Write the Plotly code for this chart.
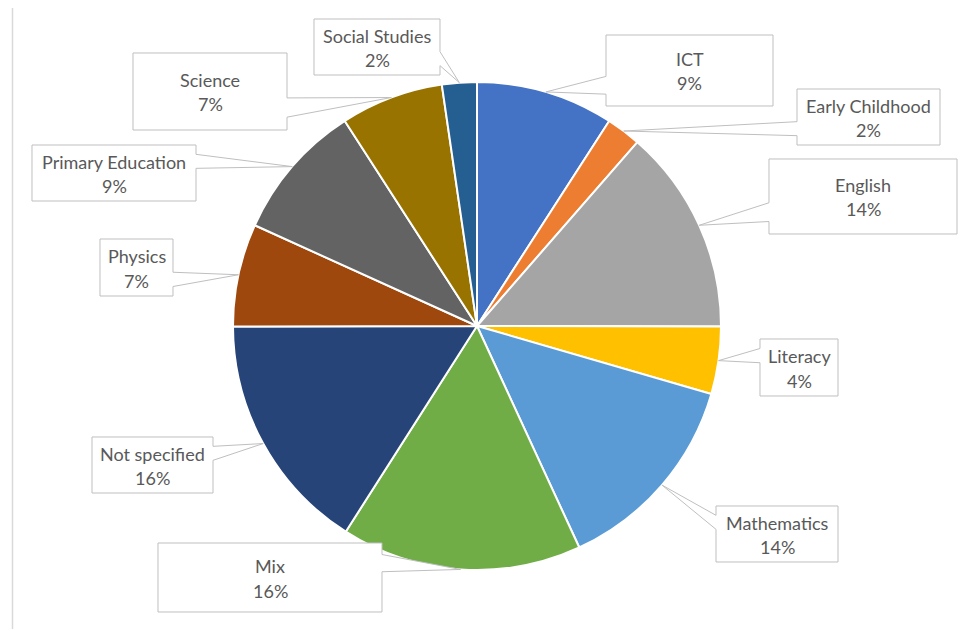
import plotly.graph_objects as go
import math

categories = ["ICT", "Early Childhood", "English", "Literacy", "Mathematics", "Mix",
              "Not specified", "Physics", "Primary Education", "Science", "Social Studies"]
values = [9.1, 2.3, 13.6, 4.45, 13.6, 15.9, 15.9, 6.8, 9.1, 6.8, 2.3]
colors = ["#4472C4", "#ED7D31", "#A5A5A5", "#FFC000", "#5B9BD5", "#70AD47",
          "#264478", "#9E480E", "#636363", "#997300", "#255E91"]

# callout box positions in screen pixels: (left, top, right, bottom)
boxes = {
    "ICT": (606, 35, 773, 106),
    "Early Childhood": (797, 89, 940, 145),
    "English": (769, 159, 957, 234),
    "Literacy": (760, 339, 838, 396),
    "Mathematics": (716, 506, 838, 562),
    "Mix": (158, 543, 382, 612),
    "Not specified": (92, 437, 213, 493),
    "Physics": (100, 239, 173, 296),
    "Primary Education": (32, 145, 196, 201),
    "Science": (133, 53, 287, 130),
    "Social Studies": (314, 19, 440, 75),
}

W, H = 972, 629
OFF = 8  # page body margin
CX, CY, R = 477, 326, 244
FONT = "Lato"
FSIZE = 18
TXT = "#595959"


def px(x, y):
    return (x - OFF) / W, 1 - (y - OFF) / H


def callout_path(l, t, r, b, xt, yt):
    w, h = r - l, b - t
    hc, vc = (l + r) / 2, (t + b) / 2
    dxp, dyp = xt - hc, yt - vc
    inside = l <= xt <= r and t <= yt <= b
    x1 = l + w * (7 if dxp > 0 else 2) / 12
    x2 = l + w * (10 if dxp > 0 else 5) / 12
    y1 = t + h * (7 if dyp > 0 else 2) / 12
    y2 = t + h * (10 if dyp > 0 else 5) / 12
    side = None
    if not inside:
        if abs(dxp * h) > abs(dyp * w):
            side = "r" if dxp > 0 else "l"
        else:
            side = "b" if dyp > 0 else "t"
    pts = [(l, t)]
    if side == "t":
        pts += [(x1, t), (xt, yt), (x2, t)]
    pts += [(r, t)]
    if side == "r":
        pts += [(r, y1), (xt, yt), (r, y2)]
    pts += [(r, b)]
    if side == "b":
        pts += [(x2, b), (xt, yt), (x1, b)]
    pts += [(l, b)]
    if side == "l":
        pts += [(l, y2), (xt, yt), (l, y1)]
    segs = []
    for x, y in pts:
        a, c = px(x, y)
        segs.append(f"{a:.5f},{c:.5f}")
    return "M " + " L ".join(segs) + " Z"


dx0, dy1 = px(CX - R, CY - R)
dx1, dy0 = px(CX + R, CY + R)
fig = go.Figure(go.Pie(
    labels=categories, values=values, sort=False, direction="clockwise", rotation=0,
    marker=dict(colors=colors, line=dict(color="white", width=2)),
    textinfo="none", hoverinfo="label+percent", showlegend=False,
    domain=dict(x=[dx0, dx1], y=[dy0, dy1]),
))

total = sum(values)
shapes = []
annotations = []
cum = 0.0
for name, v in zip(categories, values):
    mid = (cum + v / 2) / total * 2 * math.pi
    cum += v
    xt = CX + R * math.sin(mid)
    yt = CY - R * math.cos(mid)
    l, t, r, b = boxes[name]
    shapes.append(dict(type="path", xref="paper", yref="paper", layer="above",
                       path=callout_path(l, t, r, b, xt, yt),
                       fillcolor="white", line=dict(color="#BFBFBF", width=1)))
    pct = f"{round(v / total * 100)}%"
    hc, vc = (l + r) / 2, (t + b) / 2
    for txt, off in ((name, -11.5), (pct, 13)):
        ax, ay = px(hc, vc + off)
        annotations.append(dict(x=ax, y=ay, xref="paper", yref="paper", text=txt,
                                showarrow=False, xanchor="center", yanchor="middle",
                                font=dict(family=FONT, size=FSIZE, color=TXT)))

# chart area border (left and top edges visible)
x0, y0 = px(12.5, 7)
x1_, y1_ = px(980, 7)
x2_, y2_ = px(12.5, 640)
shapes.append(dict(type="line", xref="paper", yref="paper", x0=x0, y0=y0, x1=x1_, y1=y1_,
                   line=dict(color="#D9D9D9", width=1.5)))
shapes.append(dict(type="line", xref="paper", yref="paper", x0=x0, y0=y0, x1=x2_, y1=y2_,
                   line=dict(color="#D9D9D9", width=1.5)))

fig.update_layout(width=W, height=H, margin=dict(l=0, r=0, t=0, b=0),
                  paper_bgcolor="white", plot_bgcolor="white",
                  shapes=shapes, annotations=annotations,
                  font=dict(family=FONT, color=TXT))
fig.write_html("out.html")
